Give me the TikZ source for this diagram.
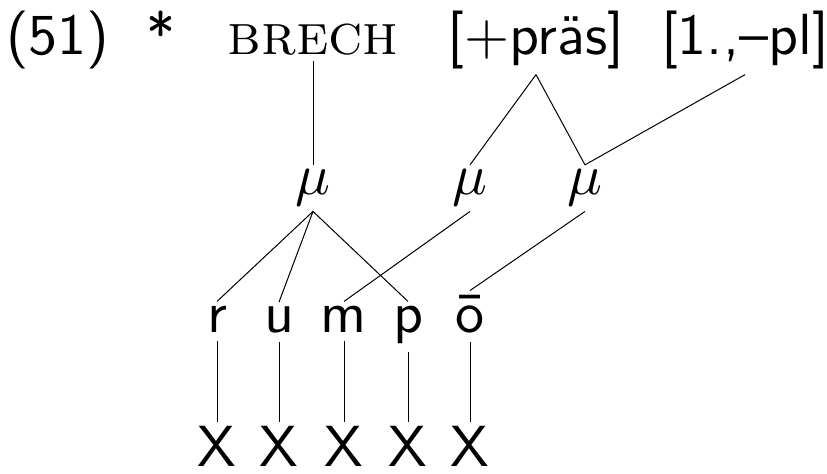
\documentclass[tikz,border=0pt]{standalone}
\begin{document}
\begin{tikzpicture}[x=0.5pt,y=-0.5pt,
  lbl/.style={anchor=base, scale=2.9, inner sep=0.69pt, font=\sffamily},
  rm/.style={lbl, font=\rmfamily},
  skel/.style={lbl, inner sep=0pt},
  edge/.style={line width=0.5pt}]
\useasboundingbox (0,0) rectangle (827,474);
% top row
\node[lbl] (ex)    at (58,55)  {(51)};
\node[lbl] (star)  at (161,55) {*};
\node[rm]  (brech) at (313,55) {\textsc{brech}};
\node[lbl] (pras)  at (536,55) {[$+$präs]};
\node[lbl] (pl)    at (745,55) {[1.,–pl]};
% mora row
\node[lbl] (mu1) at (313,195) {$\mu$};
\node[lbl] (mu2) at (470,195) {$\mu$};
\node[lbl] (mu3) at (585,195) {$\mu$};
% segments
\node[lbl] (r) at (217,333) {r};
\node[lbl] (u) at (279,333) {u};
\node[lbl] (m) at (344,333) {m};
\node[lbl] (p) at (408,333) {p};
\node[lbl] (o) at (470,333) {ō};
% skeleton
\node[skel] (x1) at (217,467) {X};
\node[skel] (x2) at (279,467) {X};
\node[skel] (x3) at (344,467) {X};
\node[skel] (x4) at (408,467) {X};
\node[skel] (x5) at (470,467) {X};
% connectors
\draw[edge] (brech.south) -- (mu1.north);
\draw[edge] (pras.south) -- (mu2.north);
\draw[edge] (pras.south) -- (mu3.north);
\draw[edge] (pl.south) -- (mu3.north);
\draw[edge] (mu1.south) -- (r.north);
\draw[edge] (mu1.south) -- (u.north);
\draw[edge] (mu1.south) -- (p.north);
\draw[edge] (mu2.south) -- (m.north);
\draw[edge] (mu3.south) -- (o.north);
\draw[edge, shorten <=1.5pt, shorten >=2pt] (r.south) -- (x1.north);
\draw[edge, shorten <=1.5pt, shorten >=2pt] (u.south) -- (x2.north);
\draw[edge, shorten <=1.5pt, shorten >=2pt] (m.south) -- (x3.north);
\draw[edge, shorten <=1.5pt, shorten >=2pt] (p.south) -- (x4.north);
\draw[edge, shorten <=1.5pt, shorten >=2pt] (o.south) -- (x5.north);
\end{tikzpicture}
\end{document}
